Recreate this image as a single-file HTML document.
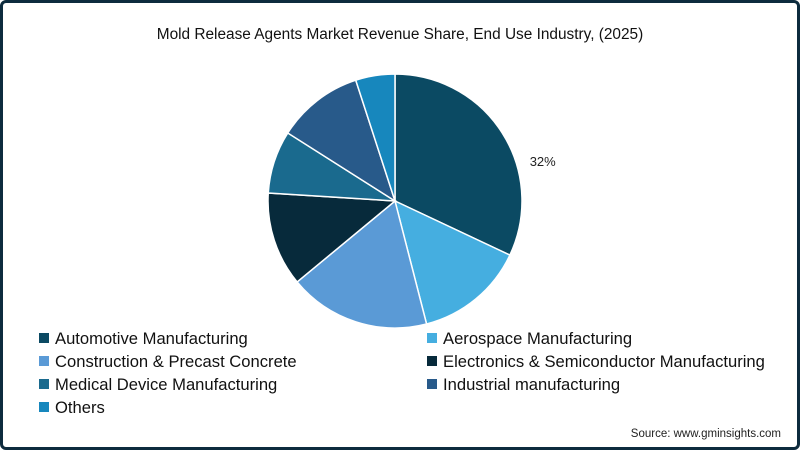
<!DOCTYPE html>
<html><head><meta charset="utf-8"><style>
html,body{margin:0;padding:0;}
body{width:800px;height:450px;overflow:hidden;background:#fff;font-family:"Liberation Sans",sans-serif;}
#frame{position:absolute;left:0;top:0;width:794px;height:444px;border:3px solid #0d2b3e;border-radius:6px;background:#fff;}
</style></head><body>
<div id="frame"></div>
<svg id="chart" width="800" height="450" style="position:absolute;left:0;top:0">
<text x="400" y="39" text-anchor="middle" font-size="15.4" fill="#111">Mold Release Agents Market Revenue Share, End Use Industry, (2025)</text>
<g id="slices"></g>
<g id="legend"></g>
<text x="781" y="437" text-anchor="end" font-size="11.5" fill="#222">Source: www.gminsights.com</text>
</svg>
<script>
const categories=["Automotive Manufacturing","Aerospace Manufacturing","Construction & Precast Concrete","Electronics & Semiconductor Manufacturing","Medical Device Manufacturing","Industrial manufacturing","Others"];
const shares=[32,14,18,12,8,11,5];
const colors=["#0b4a63","#45aee0","#5a9ad6","#072a3b","#1a6a8e","#285a8a","#1787bd"];
const labelShown=["32%","","","","","",""];
const NS="http://www.w3.org/2000/svg";
const cx=395,cy=201,r=127;
const total=shares.reduce((a,b)=>a+b,0);
const sl=document.getElementById('slices');
let acc=0;
function pt(a,rad){return [cx+rad*Math.sin(a),cy-rad*Math.cos(a)];}
shares.forEach((v,i)=>{
  const a0=acc/total*2*Math.PI; acc+=v; const a1=acc/total*2*Math.PI;
  const p0=pt(a0,r),p1=pt(a1,r);
  const large=(a1-a0)>Math.PI?1:0;
  const p=document.createElementNS(NS,'path');
  p.setAttribute('d',`M${cx},${cy} L${p0[0]},${p0[1]} A${r},${r} 0 ${large} 1 ${p1[0]},${p1[1]} Z`);
  p.setAttribute('fill',colors[i]);p.setAttribute('stroke','#fff');p.setAttribute('stroke-width','1.5');
  
  
  sl.appendChild(p);
  if(labelShown[i]){
    const am=a0+(a1-a0)*0.65;const lp=pt(am,153);
    const t=document.createElementNS(NS,'text');
    t.setAttribute('x',lp[0]);t.setAttribute('y',lp[1]+5);t.setAttribute('font-size','13');t.setAttribute('fill','#222');t.setAttribute('text-anchor','middle');
    t.textContent=labelShown[i];
    
    
    sl.appendChild(t);
  }
});
const lg=document.getElementById('legend');
categories.forEach((c,i)=>{
  const col=i%2,row=Math.floor(i/2);
  const x=col?427:39,y=338+row*23;
  const g=document.createElementNS(NS,'g');
  
  
  const rc=document.createElementNS(NS,'rect');
  rc.setAttribute('x',x);rc.setAttribute('y',y-5);rc.setAttribute('width',10);rc.setAttribute('height',10);rc.setAttribute('fill',colors[i]);
  const t=document.createElementNS(NS,'text');
  t.setAttribute('x',x+16);t.setAttribute('y',y+6);t.setAttribute('font-size','16.6');t.setAttribute('fill','#111');
  t.textContent=c;
  g.appendChild(rc);g.appendChild(t);lg.appendChild(g);
});
</script>
</body></html>
